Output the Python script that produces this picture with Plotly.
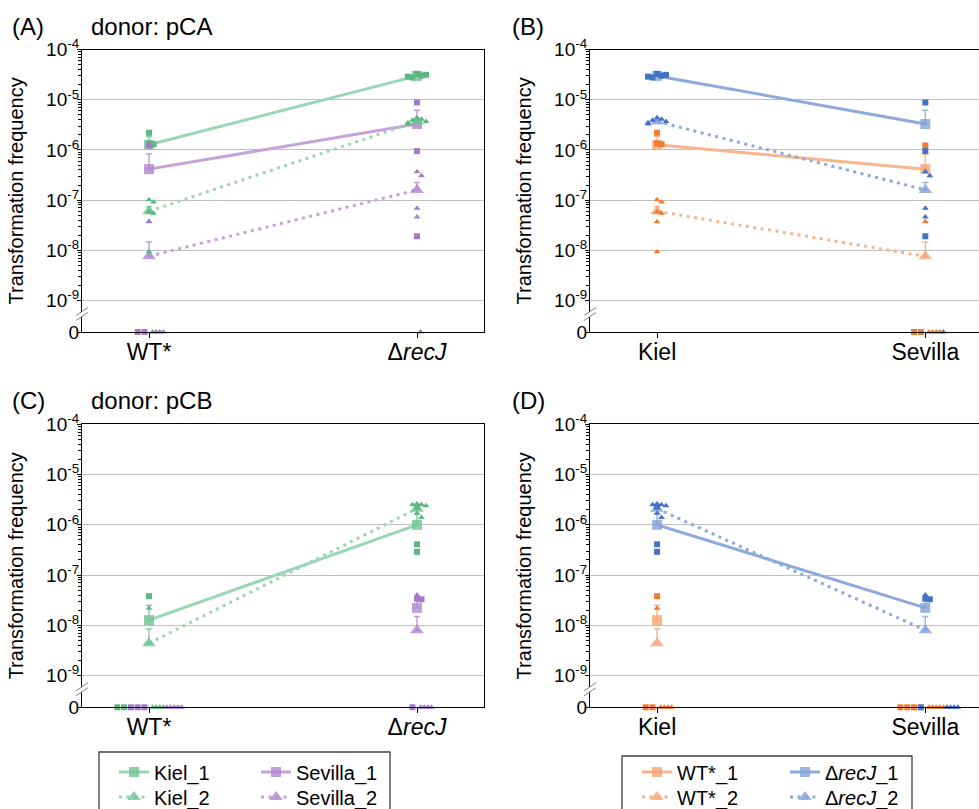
import math
import plotly.graph_objects as go

# ------------------------------------------------------------------ data
STRAIN_LABELS = ["WT*", "Δ<i>recJ</i>"]
RECIPIENT_LABELS = ["Kiel", "Sevilla"]
Y_TICK_VALUES = [1e-9, 1e-8, 1e-7, 1e-6, 1e-5, 1e-4]
Y_TICK_LABELS = ["10<sup>-9</sup>", "10<sup>-8</sup>", "10<sup>-7</sup>",
                 "10<sup>-6</sup>", "10<sup>-5</sup>", "10<sup>-4</sup>"]
ZERO_LABEL = "0"
PANEL_LABELS = ["(A)", "(B)", "(C)", "(D)"]
DONOR_TITLES = ["donor: pCA", "donor: pCB"]

# donor pCA  (replicates for WT* / ΔrecJ, means and standard errors [WT*, ΔrecJ])
pCA_Kiel_1_WT = [2.2e-6, 1.35e-6, 1.3e-6]
pCA_Kiel_1_recJ = [3.3e-5, 3.05e-5, 2.8e-5, 3.15e-5, 2.9e-5]
pCA_Kiel_1_mean = [1.27e-6, 3.0e-5]
pCA_Kiel_1_se = [5.8e-7, 1.5e-6]

pCA_Kiel_2_WT = [1.02e-7, 9.2e-8, 5.8e-8, 5.5e-8, 3.7e-8, 9.3e-9]
pCA_Kiel_2_recJ = [4.4e-6, 4.1e-6, 3.9e-6, 3.7e-6, 3.5e-6, 3.3e-6]
pCA_Kiel_2_mean = [6.0e-8, 3.7e-6]
pCA_Kiel_2_se = [1.5e-8, 2.5e-7]

pCA_Sevilla_1_WT = [1.23e-6, 0, 0]
pCA_Sevilla_1_recJ = [8.85e-6, 9.5e-7, 1.9e-8]
pCA_Sevilla_1_mean = [4.15e-7, 3.3e-6]
pCA_Sevilla_1_se = [4.15e-7, 2.9e-6]

pCA_Sevilla_2_WT = [3.76e-8, 0, 0, 0, 0]
pCA_Sevilla_2_recJ = [3.7e-7, 3.05e-7, 6.9e-8, 4.6e-8, 0]
pCA_Sevilla_2_mean = [7.6e-9, 1.6e-7]
pCA_Sevilla_2_se = [7.0e-9, 6.5e-8]

# donor pCB
pCB_Kiel_1_WT = [3.8e-8, 0, 0]
pCB_Kiel_1_recJ = [2.3e-6, 4.1e-7, 2.9e-7]
pCB_Kiel_1_mean = [1.27e-8, 1.0e-6]
pCB_Kiel_1_se = [1.25e-8, 6.5e-7]

pCB_Kiel_2_WT = [2.2e-8, 0, 0, 0, 0]
pCB_Kiel_2_recJ = [2.6e-6, 2.5e-6, 2.5e-6, 2.4e-6, 1.7e-6, 1.4e-6]
pCB_Kiel_2_mean = [4.4e-9, 2.1e-6]
pCB_Kiel_2_se = [4.1e-9, 2.0e-7]

pCB_Sevilla_1_WT = [0, 0, 0]
pCB_Sevilla_1_recJ = [3.4e-8, 3.3e-8, 0]
pCB_Sevilla_1_mean = [0, 2.23e-8]
pCB_Sevilla_1_se = [0, 1.1e-8]

pCB_Sevilla_2_WT = [0, 0, 0, 0, 0]
pCB_Sevilla_2_recJ = [4.0e-8, 0, 0, 0, 0]
pCB_Sevilla_2_mean = [0, 8.0e-9]
pCB_Sevilla_2_se = [0, 7.0e-9]

# ------------------------------------------------------------------ lookup
DATA = {}
for donor, tab in (("pCA", {
        ("Kiel", 1): (pCA_Kiel_1_WT, pCA_Kiel_1_recJ, pCA_Kiel_1_mean, pCA_Kiel_1_se),
        ("Kiel", 2): (pCA_Kiel_2_WT, pCA_Kiel_2_recJ, pCA_Kiel_2_mean, pCA_Kiel_2_se),
        ("Sevilla", 1): (pCA_Sevilla_1_WT, pCA_Sevilla_1_recJ, pCA_Sevilla_1_mean, pCA_Sevilla_1_se),
        ("Sevilla", 2): (pCA_Sevilla_2_WT, pCA_Sevilla_2_recJ, pCA_Sevilla_2_mean, pCA_Sevilla_2_se)}),
        ("pCB", {
        ("Kiel", 1): (pCB_Kiel_1_WT, pCB_Kiel_1_recJ, pCB_Kiel_1_mean, pCB_Kiel_1_se),
        ("Kiel", 2): (pCB_Kiel_2_WT, pCB_Kiel_2_recJ, pCB_Kiel_2_mean, pCB_Kiel_2_se),
        ("Sevilla", 1): (pCB_Sevilla_1_WT, pCB_Sevilla_1_recJ, pCB_Sevilla_1_mean, pCB_Sevilla_1_se),
        ("Sevilla", 2): (pCB_Sevilla_2_WT, pCB_Sevilla_2_recJ, pCB_Sevilla_2_mean, pCB_Sevilla_2_se)})):
    for (rec, ex), (wt, rj, mn, se) in tab.items():
        DATA[(donor, rec, ex)] = dict(pts=[wt, rj], mean=mn, se=se)

# ------------------------------------------------------------------ style
W, H = 979, 809
FONT = "Liberation Sans, Arial, sans-serif"
ZERO_LOG = -9.63
ZERO_POS = 10 ** ZERO_LOG
PX_PER_UNIT = 268.0

COL = {
    "Kiel": dict(pt="#5cb783", line="#98d7b3", mean="rgba(110,195,148,0.8)"),
    "Sevilla": dict(pt="#a57bc7", line="#c5a3da", mean="rgba(176,135,208,0.8)"),
    "WT*": dict(pt="#ee7d31", line="#f6b58d", mean="rgba(244,165,118,0.8)"),
    "ΔrecJ": dict(pt="#4472c4", line="#8eaadc", mean="rgba(130,162,218,0.8)"),
}
SYM = {1: "square", 2: "triangle-up"}
DASH = {1: "solid", 2: "3px,4.5px"}


def place(group, center):
    xs = [[None] * len(s["vals"]) for s in group]
    sq = [(i, j) for i, s in enumerate(group) if s["ex"] == 1
          for j, v in enumerate(s["vals"]) if v == 0]
    tr = [(i, j) for i, s in enumerate(group) if s["ex"] == 2
          for j, v in enumerate(s["vals"]) if v == 0]
    for k, (i, j) in enumerate(sq):
        xs[i][j] = center - (4.5 + (len(sq) - 1 - k) * 6.8) / PX_PER_UNIT
    for k, (i, j) in enumerate(tr):
        xs[i][j] = center + (3.6 + k * 3.6) / PX_PER_UNIT
    pattern = [0, 1, -1, 2, -2, 3, -3, 4, -4]
    for i, s in enumerate(group):
        placed = []
        for j, v in enumerate(s["vals"]):
            if v == 0:
                continue
            lv = math.log10(v)
            k = sum(1 for p in placed if abs(p - lv) < 0.1)
            xs[i][j] = center + pattern[min(k, 8)] * 4.5 / PX_PER_UNIT
            placed.append(lv)
    return xs


fig = go.Figure()


def add_panel(idx, donor, mode, legend_ids=None):
    sfx = "" if idx == 1 else str(idx)
    xa, ya = "x" + sfx, "y" + sfx
    if mode == "strain":
        series = [("Kiel", 1), ("Sevilla", 1), ("Kiel", 2), ("Sevilla", 2)]
    else:
        series = [("WT*", 1), ("ΔrecJ", 1), ("WT*", 2), ("ΔrecJ", 2)]

    def vals_at(key, ex, c):
        if mode == "strain":
            return DATA[(donor, key, ex)]["pts"][c]
        s = 0 if key == "WT*" else 1
        return DATA[(donor, ["Kiel", "Sevilla"][c], ex)]["pts"][s]

    def mean_se(key, ex):
        if mode == "strain":
            d = DATA[(donor, key, ex)]
            return d["mean"], d["se"]
        s = 0 if key == "WT*" else 1
        m = [DATA[(donor, r, ex)]["mean"][s] for r in ("Kiel", "Sevilla")]
        e = [DATA[(donor, r, ex)]["se"][s] for r in ("Kiel", "Sevilla")]
        return m, e

    def lname(key, ex):
        k = "Δ<i>recJ</i>" if key == "ΔrecJ" else key
        return f"{k}_{ex}"

    for n, (key, ex) in enumerate(series):
        m, e = mean_se(key, ex)
        ym = [v if v > 0 else None for v in m]
        tr = dict(
            x=[0, 1], y=ym, xaxis=xa, yaxis=ya, mode="lines+markers",
            name=lname(key, ex),
            line=dict(color=COL[key]["line"], width=3, dash=DASH[ex]),
            marker=dict(symbol=SYM[ex], size=10 if ex == 1 else 12,
                        color=COL[key]["mean"], line=dict(width=0)),
            error_y=dict(type="data", symmetric=False, array=e,
                         arrayminus=[0, 0], color=COL[key]["mean"],
                         thickness=1.5, width=3),
            cliponaxis=False, hoverinfo="skip",
        )
        if legend_ids:
            tr["legend"] = legend_ids[n]
            tr["showlegend"] = True
        else:
            tr["showlegend"] = False
        fig.add_trace(go.Scatter(**tr))

    for c in (0, 1):
        group = [dict(key=k, ex=ex, vals=vals_at(k, ex, c)) for k, ex in series]
        xs = place(group, c)
        for s, xv in zip(group, xs):
            yv = [v if v > 0 else ZERO_POS for v in s["vals"]]
            fig.add_trace(go.Scatter(
                x=xv, y=yv, xaxis=xa, yaxis=ya, mode="markers",
                marker=dict(symbol=SYM[s["ex"]], size=6,
                            color=COL[s["key"]]["pt"], line=dict(width=0)),
                showlegend=False, cliponaxis=False, hoverinfo="skip"))


# legend ids in series order: row1 col1, row1 col2, row2 col1, row2 col2
add_panel(1, "pCA", "strain", ["legend", "legend3", "legend2", "legend4"])
add_panel(2, "pCA", "recipient", ["legend5", "legend7", "legend6", "legend8"])
add_panel(3, "pCB", "strain")
add_panel(4, "pCB", "recipient")

XL = [82 / W, 484 / W]
XR = [590 / W, 1.0]
YT = [1 - 332 / H, 1 - 49.7 / H]
YB = [1 - 707.3 / H, 1 - 424.3 / H]

minor_vals = [k * 10.0 ** n for n in range(-9, -4) for k in range(2, 10)]


def xaxis(dom, anchor, rng, labels):
    return dict(domain=dom, anchor=anchor, range=rng, tickvals=[0, 1],
                ticktext=labels, showline=True, linecolor="black",
                linewidth=1.3, mirror=True, ticks="outside", ticklen=5,
                tickwidth=1.3, tickcolor="black", showgrid=False,
                zeroline=False, tickfont=dict(size=23, color="black"),
                ticklabelstandoff=-6)


def yaxis(dom, anchor, mirror):
    return dict(domain=dom, anchor=anchor, type="log", range=[ZERO_LOG, -4],
                tickvals=[ZERO_POS] + Y_TICK_VALUES,
                ticktext=[ZERO_LABEL] + Y_TICK_LABELS,
                showline=True, linecolor="black", linewidth=1.3, mirror=mirror,
                ticks="outside", ticklen=4, tickwidth=1.3, tickcolor="black",
                showgrid=True, gridcolor="#c0c0c0", gridwidth=1.3,
                zeroline=False, tickfont=dict(size=19, color="black"),
                ticklabelstandoff=-6,
                minor=dict(tickvals=minor_vals, ticks="outside", ticklen=3,
                           tickcolor="black", showgrid=False),
                title=dict(text="Transformation frequency", standoff=17,
                           font=dict(size=20, color="black")))


def legend_cfg(xpx, ypx):
    return dict(x=xpx / W, y=1 - ypx / H, xanchor="left", yanchor="middle",
                bgcolor="rgba(0,0,0,0)", borderwidth=0,
                font=dict(size=20, color="black", family=FONT),
                itemwidth=30, orientation="v")


layout = dict(
    width=W, height=H, margin=dict(l=0, r=0, t=0, b=0, autoexpand=False),
    paper_bgcolor="white", plot_bgcolor="white",
    font=dict(family=FONT, color="black"),
    xaxis=xaxis(XL, "y", [-0.25, 1.25], STRAIN_LABELS),
    yaxis=yaxis(YT, "x", True),
    xaxis2=xaxis(XR, "y2", [-0.25, 1.2], RECIPIENT_LABELS),
    yaxis2=yaxis(YT, "x2", False),
    xaxis3=xaxis(XL, "y3", [-0.25, 1.25], STRAIN_LABELS),
    yaxis3=yaxis(YB, "x3", True),
    xaxis4=xaxis(XR, "y4", [-0.25, 1.2], RECIPIENT_LABELS),
    yaxis4=yaxis(YB, "x4", False),
    legend=legend_cfg(114, 772),
    legend2=legend_cfg(114, 797),
    legend3=legend_cfg(256, 772),
    legend4=legend_cfg(256, 797),
    legend5=legend_cfg(637, 772),
    legend6=legend_cfg(637, 797),
    legend7=legend_cfg(785, 772),
    legend8=legend_cfg(785, 797),
)
fig.update_layout(**layout)

ann = []
for lab, (xp, yp) in zip(PANEL_LABELS, [(10, 27), (510, 27), (10, 401), (510, 401)]):
    ann.append(dict(text=lab, x=xp / W, y=1 - yp / H, xref="paper", yref="paper",
                    xanchor="left", yanchor="middle", showarrow=False,
                    font=dict(size=24, color="black")))
for lab, yp in zip(DONOR_TITLES, [27, 401]):
    ann.append(dict(text=lab, x=89 / W, y=1 - yp / H, xref="paper", yref="paper",
                    xanchor="left", yanchor="middle", showarrow=False,
                    font=dict(size=24, color="black")))
fig.update_layout(annotations=ann)

shapes = []
for sfx in ["", "2", "3", "4"]:
    common = dict(xref=f"x{sfx} domain", yref=f"y{sfx} domain", xanchor=0,
                  yanchor=0.062, xsizemode="pixel", ysizemode="pixel")
    shapes.append(dict(type="path", path="M-6,-6 L6,2 L6,7 L-6,-1 Z",
                       fillcolor="white", line=dict(width=0), layer="above", **common))
    shapes.append(dict(type="path", path="M-6,-6 L6,2", line=dict(color="#808080", width=1),
                       layer="above", **common))
    shapes.append(dict(type="path", path="M-6,-1 L6,7", line=dict(color="#808080", width=1),
                       layer="above", **common))
shapes.append(dict(type="rect", xref="paper", yref="paper", x0=99 / W, x1=390 / W,
                   y0=-0.02, y1=1 - 752 / H, line=dict(color="#404040", width=1.3)))
shapes.append(dict(type="rect", xref="paper", yref="paper", x0=622 / W, x1=912 / W,
                   y0=-0.02, y1=1 - 756 / H, line=dict(color="#404040", width=1.3)))
fig.update_layout(shapes=shapes)

fig.write_html("out.html", config={"displayModeBar": False},
               post_script="document.body.style.margin='0';document.body.style.overflow='hidden';")
